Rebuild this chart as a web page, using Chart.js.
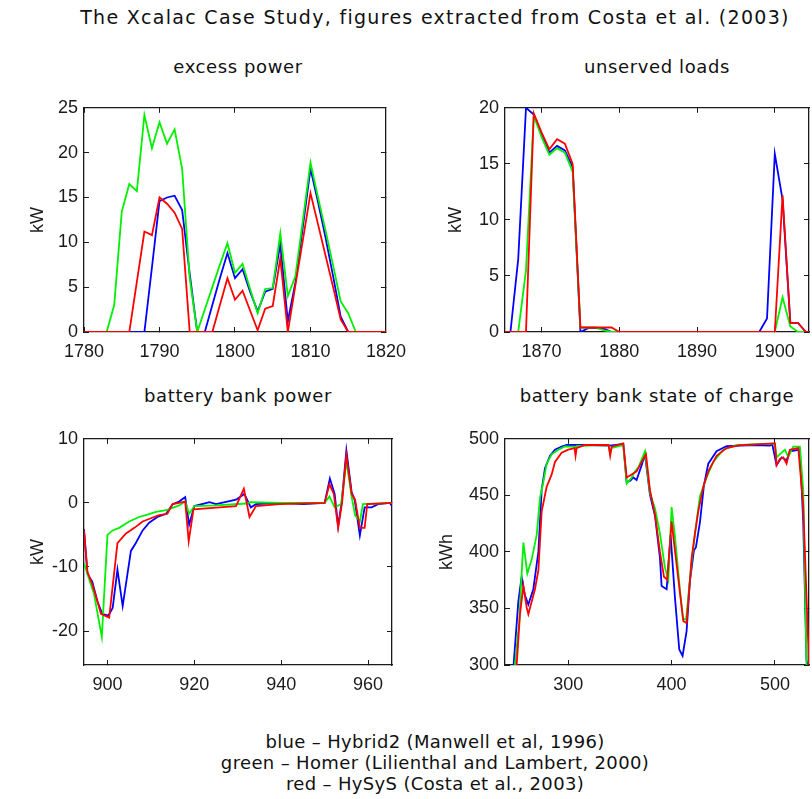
<!DOCTYPE html>
<html lang="en">
<head>
<meta charset="UTF-8">
<title>The Xcalac Case Study</title>
<script src="https://cdn.jsdelivr.net/npm/chart.js"></script>
<style>
  body { margin: 0; background: #fff; }
  #page { position: relative; width: 812px; height: 799px; overflow: hidden; background: #fff;
          font-family: "DejaVu Sans", Verdana, sans-serif; color: #111; }
  .txt { position: absolute; text-align: center; white-space: nowrap; }
  .sub { font-size: 18px; line-height: 20px; letter-spacing: 0.6px; top: 57px; }
  canvas { position: absolute; }
</style>
</head>
<body>
<div id="page">
  <div class="txt" style="left:0; width:870px; top:6px; font-size:19px; line-height:22px; letter-spacing:1.3px;">The Xcalac Case Study, figures extracted from Costa et al. (2003)</div>

  <div class="txt sub" style="left:84px; width:308px;">excess power</div>
  <div class="txt sub" style="left:505px; width:304px;">unserved loads</div>
  <div class="txt sub" style="left:84px; width:308px; top:386px;">battery bank power</div>
  <div class="txt sub" style="left:505px; width:304px; top:386px;">battery bank state of charge</div>

  <canvas id="excess" width="420" height="290" style="left:0; top:86px;"></canvas>
  <canvas id="unserved" width="392" height="290" style="left:420px; top:86px;"></canvas>
  <canvas id="power" width="420" height="292" style="left:0; top:417px;"></canvas>
  <canvas id="soc" width="392" height="292" style="left:420px; top:417px;"></canvas>

  <div class="txt" style="left:0; width:870px; top:731px; font-size:18px; line-height:21px; letter-spacing:0.35px;">
    blue &ndash; Hybrid2 (Manwell et al, 1996)<br>
    green &ndash; Homer (Lilienthal and Lambert, 2000)<br>
    red &ndash; HySyS (Costa et al., 2003)
  </div>
</div>

<script>
    // excess power, kW per hour
    const excessHours = [1780, 1781, 1782, 1783, 1784, 1785, 1786, 1787, 1788, 1789, 1790, 1791, 1792, 1793,
        1794, 1795, 1796, 1797, 1798, 1799, 1800, 1801, 1802, 1803, 1804, 1805, 1806, 1807, 1808, 1809, 1810,
        1811, 1812, 1813, 1814, 1815, 1816, 1817, 1818, 1819, 1820];
    const excessBlue = [0, 0, 0, 0, 0, 0, 0, 0, 0, 7.2, 14.6, 15.0, 15.2, 13.6, 6.5, 0, 0, 3.0, 6.0, 8.8, 6.0,
        7.0, 4.5, 2.3, 4.5, 4.8, 9.8, 1.2, 5.5, 11.8, 18.2, 14.5, 10.5, 6.2, 1.7, 0, 0, 0, 0, 0, 0];
    const excessGreen = [0, 0, 0, 0, 3.0, 13.4, 16.5, 15.7, 24.2, 20.5, 23.4, 21.0, 22.6, 18.2, 6.0, 0, 2.5,
        5.0, 7.5, 9.9, 6.6, 7.6, 4.8, 2.1, 4.8, 4.9, 11.0, 4.0, 6.2, 12.5, 18.9, 15.0, 11.3, 7.4, 3.4, 2.1,
        0, 0, 0, 0, 0];
    const excessRed = [0, 0, 0, 0, 0, 0, 0, 5.6, 11.2, 10.8, 15.0, 14.3, 13.3, 11.5, 0, 0, 0, 0, 3.0, 6.0,
        3.6, 4.6, 2.4, 0.2, 2.6, 2.9, 8.2, 0, 5.2, 10.3, 15.5, 12.0, 8.5, 5.0, 1.4, 0, 0, 0, 0, 0, 0];

    // unserved loads, kW per hour
    const unservedHours = [1865, 1866, 1867, 1868, 1869, 1870, 1871, 1872, 1873, 1874, 1875, 1876, 1877, 1878,
        1879, 1880, 1881, 1882, 1883, 1884, 1885, 1886, 1887, 1888, 1889, 1890, 1891, 1892, 1893, 1894, 1895,
        1896, 1897, 1898, 1899, 1900, 1901, 1902, 1903, 1904, 1905];
    const unservedBlue = [0, 0, 6.5, 20.0, 19.4, 17.6, 16.0, 16.6, 16.2, 14.7, 0, 0.35, 0.35, 0.3, 0,
        0, 0, 0, 0, 0, 0, 0, 0, 0, 0, 0, 0, 0, 0, 0, 0, 0, 0, 0, 1.2, 15.9, 11.8, 0.8, 0.8, 0, 0];
    const unservedGreen = [0, 0, 0, 5.5, 19.3, 17.4, 15.8, 16.4, 16.0, 14.3, 0.4, 0.4, 0.4, 0.15, 0,
        0, 0, 0, 0, 0, 0, 0, 0, 0, 0, 0, 0, 0, 0, 0, 0, 0, 0, 0, 0, 0, 3.1, 0.5, 0, 0, 0];
    const unservedRed = [0, 0, 0, 0, 19.5, 17.8, 16.3, 17.2, 16.8, 15.0, 0.4, 0.4, 0.4, 0.4, 0.4,
        0, 0, 0, 0, 0, 0, 0, 0, 0, 0, 0, 0, 0, 0, 0, 0, 0, 0, 0, 0, 0, 12.2, 0.8, 0.8, 0, 0];

    // battery bank power, kW
    const powerBlueHours = [894.6, 895.4, 896.5, 897.7, 898.8, 900.2, 901.2, 902.3, 903.5, 905.4, 906.5, 908.1,
        909.6, 911.5, 913.5, 915.0, 916.5, 917.9, 918.8, 920.0, 923.5, 925.0, 929.6, 931.5, 933.0, 934.2,
        940.0, 945.0, 950.0, 951.2, 952.3, 953.1, 953.9, 955.0, 956.2, 956.9, 958.1, 959.2, 960.8, 962.3,
        965.0, 965.5];
    const powerBlue = [-4.1, -11.1, -12.3, -15.4, -17.3, -17.6, -16.4, -10.4, -16.1, -7.5, -6.3, -4.3,
        -3.1, -2.2, -1.7, -0.2, 0.2, 0.9, -3.4, -0.5, 0.1, -0.2, 0.5, 1.4, -0.7, -0.2,
        0, -0.2, 0, 3.8, 1.4, -3.6, 0, 8.2, 1.7, 0.5, -5.1, -0.7, -0.7, -0.2, 0, -0.5];
    const powerGreenHours = [894.6, 896.9, 898.7, 900.0, 901.2, 902.7, 905.0, 907.3, 908.8, 911.2, 913.8,
        916.5, 917.9, 918.8, 920.0, 925.0, 931.9, 933.0, 940.0, 950.0, 951.1, 952.3, 953.8, 955.0, 956.2,
        957.0, 958.1, 958.8, 965.5];
    const powerGreen = [-9.4, -14.2, -20.9, -5.0, -4.3, -3.9, -2.9, -2.2, -1.9, -1.4, -1.1,
        -0.4, 0.2, -1.7, -0.5, -0.4, -0.1, 0.1, 0, 0, 1.0, -0.7, -0.2, 6.5, 1.0,
        -1.9, -2.9, -0.2, 0];
    const powerRedHours = [894.6, 895.4, 896.5, 897.7, 898.5, 900.4, 902.3, 904.2, 906.2, 908.1, 910.0, 911.9,
        913.8, 915.0, 916.5, 917.9, 918.7, 919.8, 925.8, 929.6, 931.4, 932.7, 934.2, 939.6, 950.0, 951.1,
        952.1, 953.1, 954.0, 955.0, 956.2, 957.0, 958.1, 959.2, 959.8, 965.5];
    const powerRed = [-4.3, -10.8, -12.7, -15.4, -17.3, -17.9, -6.3, -4.8, -3.9, -2.9, -2.4, -1.9,
        -1.7, -0.2, 0, 0.2, -6.0, -1.0, -0.7, -0.5, 2.2, -2.2, -0.5, -0.2, 0, 2.9,
        1.4, -3.9, 0, 7.5, 1.4, 0.5, -3.9, -3.9, -0.2, 0];

    // battery bank state of charge, kWh
    const socBlueHours = [247, 251.6, 254.8, 258, 261.3, 266.1, 271, 274.2, 277.4, 282.3, 287.1, 293.5, 298.4,
        320, 340, 353.2, 356.5, 360, 362.9, 366.1, 371, 374.2, 379, 383.9, 388.7, 390.3, 395.2, 399, 403.2,
        407.4, 410.6, 414.5, 417.7, 421.6, 423.5, 427.4, 431.3, 435.5, 443.5, 453.2, 480, 495, 497.5, 501.6,
        506.5, 511.3, 514.5, 524.2, 527.4, 530.6, 531.5];
    const socBlue = [300, 356, 378, 361.6, 353.4, 367, 400, 454.8, 474, 485, 490.4, 493.2, 494.5,
        494.5, 494, 495.5, 461.6, 463, 465.8, 463.5, 476.7, 486.3, 450.7, 432, 395, 369.9, 367, 415, 360,
        313.7, 308, 330, 374, 401.4, 404, 426, 459, 478, 489, 493.5, 494.5, 494, 495, 476.7,
        483.6, 481, 489, 490.4, 427, 304, 300];
    const socGreenHours = [248.4, 252.6, 254.8, 256.5, 260.3, 264.5, 269.4, 272.6, 275.8, 279, 283.9, 290.3,
        296.8, 306, 307, 308, 330, 339, 340.5, 342, 353.2, 356.5, 361.3, 364.5, 368, 372, 374.2, 379, 383.9,
        388.7, 393.5, 396.8, 400, 403.2, 408, 411, 414, 419.4, 424.2, 427.4, 433.9, 440.3, 450, 462.9, 500,
        501.6, 506.5, 509.7, 512.9, 517.7, 524.2, 527.4, 530.6];
    const socGreen = [300, 339.7, 380.8, 408.2, 380.8, 393.2, 415, 448, 461.6, 478, 486.3, 490.4,
        493.2, 493, 490, 493.5, 494.5, 494, 487, 492, 494.5, 460.3, 465.8, 471, 475, 484, 489, 452, 438.4,
        416.4, 386.3, 375.3, 439.7, 413.7, 367, 341, 340, 391.8, 427.4, 449.3, 465.8, 479.5, 490.4, 494.5, 495.9,
        483.6, 487.7, 490.4, 484, 493, 493, 454.8, 300];
    const socRedHours = [250, 253.2, 256.5, 259.7, 261.3, 264.5, 267.7, 271, 274.2, 279, 283.9, 287.1, 293.5,
        300, 306, 307, 308, 316.1, 339, 340.5, 342, 353.2, 356.5, 361.3, 366.1, 372.6, 375.2, 379, 383.9,
        388.7, 392.6, 395.8, 400, 403.2, 408, 411.3, 414.5, 419.4, 422.6, 425.8, 430.6, 435.5, 443.5, 453.2,
        466.1, 500, 501.6, 504.8, 508.1, 511.3, 514.5, 522.6, 527.4, 533];
    const socRed = [300, 345, 369.9, 350.7, 345, 356, 367, 383.6, 435.6, 457.5, 468.5, 479.5, 487.7,
        490.4, 491.8, 485, 491.8, 494.5, 494.5, 485, 493, 496, 465.8, 468.5, 471.2, 482.2, 486.3, 454.8, 432.9,
        400, 378, 375.3, 427, 401.4, 364.4, 339, 337, 394.5, 416.4, 435.6, 457.5, 471.2, 485, 491.8,
        494.5, 495.9, 476.7, 482.2, 483.6, 478, 490.4, 491.8, 441, 300];

    // axis ticks
    const excessXTicks = [1780, 1790, 1800, 1810, 1820];
    const excessYTicks = [0, 5, 10, 15, 20, 25];
    const unservedXTicks = [1870, 1880, 1890, 1900];
    const unservedYTicks = [0, 5, 10, 15, 20];
    const powerXTicks = [900, 920, 940, 960];
    const powerYTicks = [-20, -10, 0, 10];
    const socXTicks = [300, 400, 500];
    const socYTicks = [300, 350, 400, 450, 500];

    const BLUE = '#0000ff', GREEN = '#00f000', RED = '#ff0000';
    const tickFont = { family: '"Liberation Sans", Arial, sans-serif', size: 18 };
    const INK = '#1a1a1a';

    function line(xs, ys, color) {
        return {
            data: xs.map((x, i) => ({ x: x, y: ys[i] })),
            borderColor: color,
            borderWidth: 1.8,
            pointRadius: 0,
            tension: 0,
            fill: false
        };
    }

    function fixedTicks(values) {
        return scale => { scale.ticks = values.map(v => ({ value: v })); };
    }

    // matlab-like boxed axes: ticks point inwards on all four sides
    function panel(id, o) {
        const frame = { display: true, color: INK, width: 1.3 };
        const inward = { display: true, drawOnChartArea: false, drawTicks: true, tickLength: -5, color: INK, lineWidth: 1 };
        const xBase = { type: 'linear', min: o.xMin, max: o.xMax, afterBuildTicks: fixedTicks(o.xTicks), grid: inward, border: frame };
        const yBase = { type: 'linear', min: o.yMin, max: o.yMax, afterBuildTicks: fixedTicks(o.yTicks), grid: inward, border: frame };
        return new Chart(document.getElementById(id), {
            type: 'line',
            data: { datasets: o.datasets },
            options: {
                responsive: false,
                animation: false,
                devicePixelRatio: 1,
                layout: { padding: { top: 5, right: o.padRight, bottom: 4, left: 0 } },
                plugins: { legend: { display: false }, tooltip: { enabled: false } },
                scales: {
                    x: { ...xBase, position: 'bottom',
                        afterFit: s => { s.height = 40; },
                        ticks: { font: tickFont, color: INK, padding: 14, maxRotation: 0, autoSkip: false, callback: v => String(v) } },
                    xTop: { ...xBase, position: 'top',
                        afterFit: s => { s.height = 0; },
                        ticks: { display: false } },
                    y: { ...yBase, position: 'left',
                        afterFit: s => { s.width = o.yWidth; },
                        ticks: { font: tickFont, color: INK, padding: 11, callback: v => String(v) },
                        title: { display: true, text: o.yTitle, font: tickFont, color: INK, padding: { top: o.titlePad, bottom: 0 } } },
                    yRight: { ...yBase, position: 'right',
                        afterFit: s => { s.width = 0; },
                        ticks: { display: false } }
                }
            }
        });
    }

    panel('excess', {
        datasets: [line(excessHours, excessRed, RED), line(excessHours, excessGreen, GREEN), line(excessHours, excessBlue, BLUE)],
        xMin: 1780, xMax: 1820, xTicks: excessXTicks,
        yMin: 0, yMax: 25, yTicks: excessYTicks,
        yWidth: 84, padRight: 28, yTitle: 'kW', titlePad: 27
    });

    panel('unserved', {
        datasets: [line(unservedHours, unservedRed, RED), line(unservedHours, unservedGreen, GREEN), line(unservedHours, unservedBlue, BLUE)],
        xMin: 1865.3, xMax: 1904.4, xTicks: unservedXTicks,
        yMin: 0, yMax: 20, yTicks: unservedYTicks,
        yWidth: 85, padRight: 3, yTitle: 'kW', titlePad: 25
    });

    panel('power', {
        datasets: [line(powerRedHours, powerRed, RED), line(powerGreenHours, powerGreen, GREEN), line(powerBlueHours, powerBlue, BLUE)],
        xMin: 894.6, xMax: 965.5, xTicks: powerXTicks,
        yMin: -25.3, yMax: 10, yTicks: powerYTicks,
        yWidth: 84, padRight: 28, yTitle: 'kW', titlePad: 27
    });

    panel('soc', {
        datasets: [line(socRedHours, socRed, RED), line(socGreenHours, socGreen, GREEN), line(socBlueHours, socBlue, BLUE)],
        xMin: 238.7, xMax: 533, xTicks: socXTicks,
        yMin: 300, yMax: 500, yTicks: socYTicks,
        yWidth: 85, padRight: 3, yTitle: 'kWh', titlePad: 16
    });
</script>
</body>
</html>
